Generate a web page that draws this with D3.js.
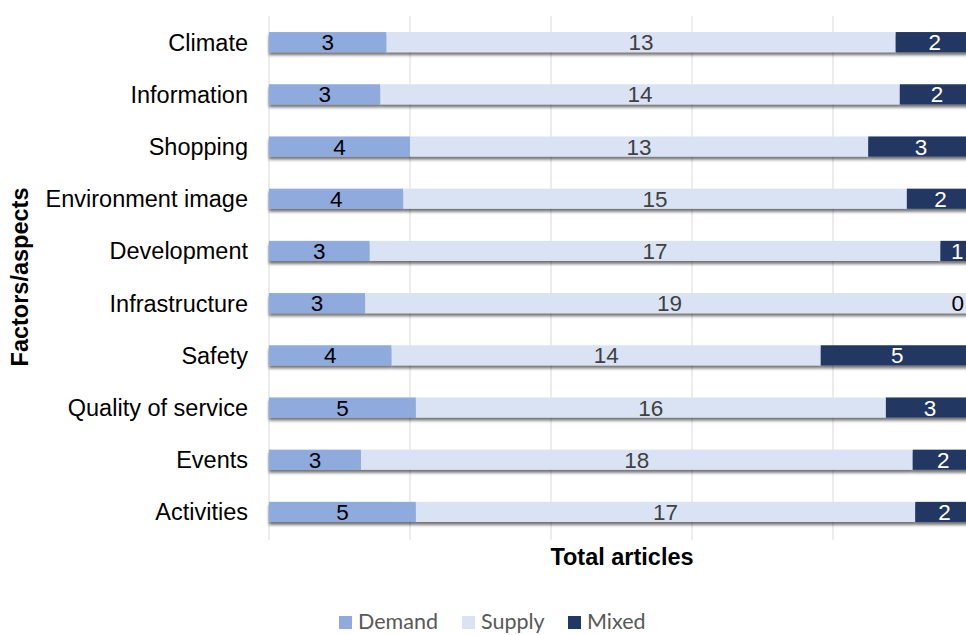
<!DOCTYPE html>
<html>
<head>
<meta charset="utf-8">
<script src="https://cdn.jsdelivr.net/npm/d3@7/dist/d3.min.js"></script>
<style>
  html, body { margin: 0; padding: 0; background: #fff; }
  svg { display: block; }
  .arial { font-family: "Liberation Sans", Arial, sans-serif; }
  .legend { font-family: Lato, "Open Sans", sans-serif; }
</style>
</head>
<body>
<svg id="chart" width="966" height="635"></svg>
<script>
// Article counts per factor, split by orientation
const categories = ["Climate", "Information", "Shopping", "Environment image", "Development",
  "Infrastructure", "Safety", "Quality of service", "Events", "Activities"];
const demand = [3, 3, 4, 4, 3, 3, 4, 5, 3, 5];
const supply = [13, 14, 13, 15, 17, 19, 14, 16, 18, 17];
const mixed  = [2, 2, 3, 2, 1, 0, 5, 3, 2, 2];
const seriesNames = ["Demand", "Supply", "Mixed"];
const seriesColors = ["#8FAADC", "#DAE3F3", "#203864"];
const labelColors = ["#000000", "#404040", "#ffffff"];
const xTicks = [0, 0.2, 0.4, 0.6, 0.8, 1];

const svg = d3.select("#chart");
const W = 966, H = 635;
const x0 = 269, plotW = 705, y0 = 16, plotH = 522;

const rows = categories.map((c, i) => ({ category: c, Demand: demand[i], Supply: supply[i], Mixed: mixed[i] }));
const stacked = d3.stack().keys(seriesNames).offset(d3.stackOffsetExpand)(rows);

const x = d3.scaleLinear().domain([0, 1]).range([x0, x0 + plotW]);
const y = d3.scaleBand().domain(categories).range([y0, y0 + plotH]).paddingInner(0.615).paddingOuter(0.3075);

// drop shadow under bars
const defs = svg.append("defs");
const f = defs.append("filter").attr("id", "shadow").attr("x", "-5%").attr("y", "-30%").attr("width", "110%").attr("height", "180%");
f.append("feDropShadow").attr("dx", 0).attr("dy", 3).attr("stdDeviation", 1.8)
  .attr("flood-color", "#000").attr("flood-opacity", 0.55);

// vertical gridlines
svg.append("g").selectAll("line").data(xTicks).join("line")
  .attr("x1", d => x(d)).attr("x2", d => x(d))
  .attr("y1", y0).attr("y2", y0 + plotH + 2)
  .attr("stroke", "#d9d9d9").attr("stroke-width", 1);

// bars
const barsG = svg.append("g");
categories.forEach((c, i) => {
  const g = barsG.append("g").attr("filter", "url(#shadow)");
  stacked.forEach((s, k) => {
    const d = s[i];
    g.append("rect")
      .attr("x", x(d[0])).attr("width", Math.max(0, x(d[1]) - x(d[0])))
      .attr("y", y(c)).attr("height", y.bandwidth())
      .attr("fill", seriesColors[k]);
  });
});

// value labels
const lblG = svg.append("g").attr("class", "arial").attr("font-size", 22.5);
categories.forEach((c, i) => {
  stacked.forEach((s, k) => {
    const d = s[i];
    const v = rows[i][seriesNames[k]];
    const zero = v === 0;
    const cx = (x(d[0]) + x(d[1])) / 2;
    const t = lblG.append("text")
      .attr("y", y(c) + y.bandwidth() / 2)
      .attr("dy", "0.36em")
      .attr("fill", zero ? "#000" : labelColors[k])
      .text(v);
    if (zero) {
      t.attr("x", W - 2).attr("text-anchor", "end");
    } else {
      t.attr("x", cx).attr("text-anchor", "middle");
    }
  });
});

// category axis labels
svg.append("g").attr("class", "arial").selectAll("text").data(categories).join("text")
  .attr("x", 248).attr("y", d => y(d) + y.bandwidth() / 2).attr("dy", "0.36em")
  .attr("text-anchor", "end")
  .attr("font-size", 23.5)
  .attr("fill", "#000")
  .text(d => d);

// axis titles
svg.append("text").attr("class", "arial")
  .attr("transform", `translate(28,${y0 + plotH / 2}) rotate(-90)`)
  .attr("text-anchor", "middle")
  .attr("font-size", 23.5).attr("font-weight", "bold")
  .text("Factors/aspects");

svg.append("text").attr("class", "arial")
  .attr("x", 622).attr("y", 565)
  .attr("text-anchor", "middle")
  .attr("font-size", 23.5).attr("font-weight", "bold")
  .text("Total articles");

// legend
const legendX = [339, 462, 568];
const leg = svg.append("g").attr("class", "legend");
seriesNames.forEach((n, k) => {
  leg.append("rect").attr("x", legendX[k]).attr("y", 616).attr("width", 13).attr("height", 13).attr("fill", seriesColors[k]);
  leg.append("text").attr("x", legendX[k] + 19).attr("y", 629)
    .attr("font-size", 21.5).attr("fill", "#595959")
    .text(n);
});
</script>
</body>
</html>
